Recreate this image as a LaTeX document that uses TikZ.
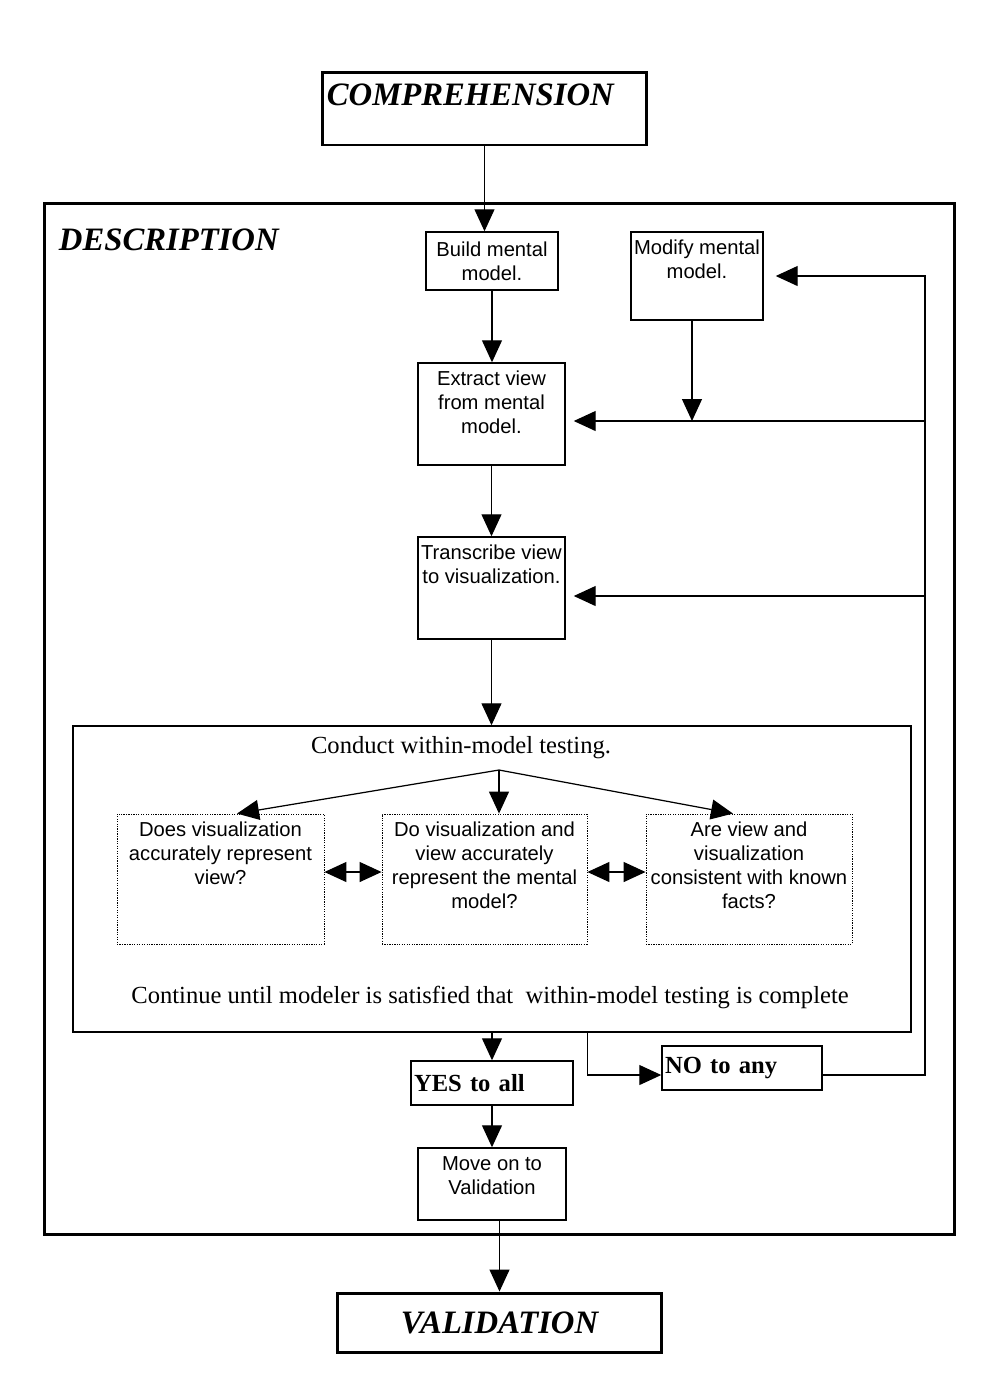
\documentclass[tikz,border=0pt]{standalone}
\usepackage{fontspec}
\setmainfont{Liberation Serif}
\newfontfamily\arialfont{Liberation Sans}
\usetikzlibrary{positioning,arrows.meta}

\tikzset{
  box/.style={draw,line width=0.85pt,inner sep=0pt},
  heavybox/.style={draw,line width=1.7pt,inner sep=0pt},
  testbox/.style={draw,line width=0.5pt,dash pattern=on 0.7pt off 0.7pt,inner sep=0pt},
  flowtext/.style={font=\arialfont\fontsize{11.5}{13.6}\selectfont,align=center,inner sep=0pt},
  headtext/.style={font=\bfseries\itshape\fontsize{18.6}{22}\selectfont,inner sep=0pt},
  plaintext/.style={font=\fontsize{14}{16}\selectfont,inner sep=0pt},
  answer/.style={font=\bfseries\fontsize{14}{16}\selectfont,align=left,inner xsep=0.06cm},
  flow/.style={line width=0.7pt,-{Triangle[length=0.44cm,width=0.40cm]}},
  both/.style={line width=0.7pt,{Triangle[length=0.44cm,width=0.40cm]}-{Triangle[length=0.44cm,width=0.40cm]}},
}

\begin{document}
\begin{tikzpicture}[x=0.02cm,y=-0.02cm]
  \useasboundingbox (0,0) rectangle (992,1374);

  % phases before and after
  \node[heavybox,minimum width=6.5cm,minimum height=1.46cm] (comp) at (484.5,108.5) {};
  \node[headtext,anchor=base west] at ([xshift=0.12cm,yshift=-0.7cm]comp.north west) {COMPREHENSION};
  \node[heavybox,headtext,minimum width=6.5cm,minimum height=1.18cm] (valid) at (499.5,1322.5) {VALIDATION};

  % description frame
  \node[heavybox,minimum width=18.22cm,minimum height=20.64cm] (desc) at (499.5,719) {};
  \node[headtext,anchor=base west] at ([xshift=0.32cm,yshift=-0.98cm]desc.north west) {DESCRIPTION};

  % model steps
  \node[box,flowtext,minimum width=2.64cm,minimum height=1.16cm] (build) at (492,261) {Build mental\\model.};
  \node[box,minimum width=2.64cm,minimum height=1.76cm] (modify) at (697,276) {};
  \node[flowtext,below=0.16cm of modify.north] {Modify mental\\model.};
  \node[box,minimum width=2.94cm,minimum height=2.04cm] (extract) at (491.5,414) {};
  \node[flowtext,below=0.16cm of extract.north] {Extract view\\from mental\\model.};
  \node[box,minimum width=2.94cm,minimum height=2.04cm] (transcribe) at (491.5,588) {};
  \node[flowtext,below=0.16cm of transcribe.north] {Transcribe view\\to visualization.};

  % within-model testing
  \node[box,minimum width=16.76cm,minimum height=6.12cm] (conduct) at (492,879) {};
  \node[plaintext,anchor=base] at ([xshift=-0.62cm,yshift=-0.56cm]conduct.north) {Conduct within-model testing.};
  \node[plaintext,anchor=base] at ([xshift=-0.04cm,yshift=0.58cm]conduct.south) {Continue until modeler is satisfied that\ \ within-model testing is complete};
  \coordinate (split) at (499,770);

  \node[testbox,minimum width=4.14cm,minimum height=2.6cm] (vis) at (220.5,879) {};
  \node[flowtext,below=0.16cm of vis.north] {Does visualization\\accurately represent\\view?};
  \node[testbox,minimum width=4.1cm,minimum height=2.6cm] (mental) at (484.5,879) {};
  \node[flowtext,below=0.16cm of mental.north] {Do visualization and\\view accurately\\represent the mental\\model?};
  \node[testbox,minimum width=4.12cm,minimum height=2.6cm] (facts) at (749,879) {};
  \node[flowtext,below=0.16cm of facts.north] {Are view and\\visualization\\consistent with known\\facts?};

  % outcomes
  \node[box,answer,minimum width=3.24cm,minimum height=0.88cm,text width=3.12cm] (yes) at (492,1083) {YES to all};
  \node[box,answer,minimum width=3.2cm,minimum height=0.88cm,text width=3.08cm] (no) at (742,1068) {NO to any};
  \node[box,minimum width=2.96cm,minimum height=1.44cm] (move) at (492,1184) {};
  \node[flowtext,below=0.18cm of move.north] {Move on to\\Validation};

  % main flow
  \draw[flow] (comp.south) -- (comp.south |- build.north);
  \draw[flow] (build.south) -- (build.south |- extract.north);
  \draw[flow] (extract.south) -- (transcribe.north);
  \draw[flow] (transcribe.south) -- (transcribe.south |- conduct.north);
  \draw[flow] (split) -- ([xshift=0.33cm]vis.north);
  \draw[flow] (split) -- (split |- mental.north);
  \draw[flow] (split) -- ([xshift=-0.32cm]facts.north);
  \draw[both] ([yshift=0.14cm]vis.east) -- ([yshift=0.14cm]mental.west);
  \draw[both] ([yshift=0.14cm]mental.east) -- ([yshift=0.14cm]facts.west);
  \draw[flow] (conduct.south -| yes.north) -- (yes.north);
  \draw[flow] (mental.east |- conduct.south) |- ([yshift=-0.14cm]no.west);
  \draw[flow] (yes.south) -- (move.north);
  \draw[flow] (valid.north |- move.south) -- (valid.north);

  % loop back
  \coordinate (back) at (925,276);
  \coordinate (extin) at ([yshift=-0.14cm]extract.east);
  \coordinate (trin) at ([yshift=-0.16cm]transcribe.east);
  \draw[flow,shorten >=0.24cm] ([yshift=-0.14cm]no.east) -| (back) -- (modify.east);
  \draw[flow,shorten >=0.16cm] (back |- extin) -- (extin);
  \draw[flow,shorten >=0.16cm] (back |- trin) -- (trin);
  \draw[flow] ([xshift=-0.1cm]modify.south) -- ([xshift=-0.1cm]modify.south |- extin);

\end{tikzpicture}
\end{document}
